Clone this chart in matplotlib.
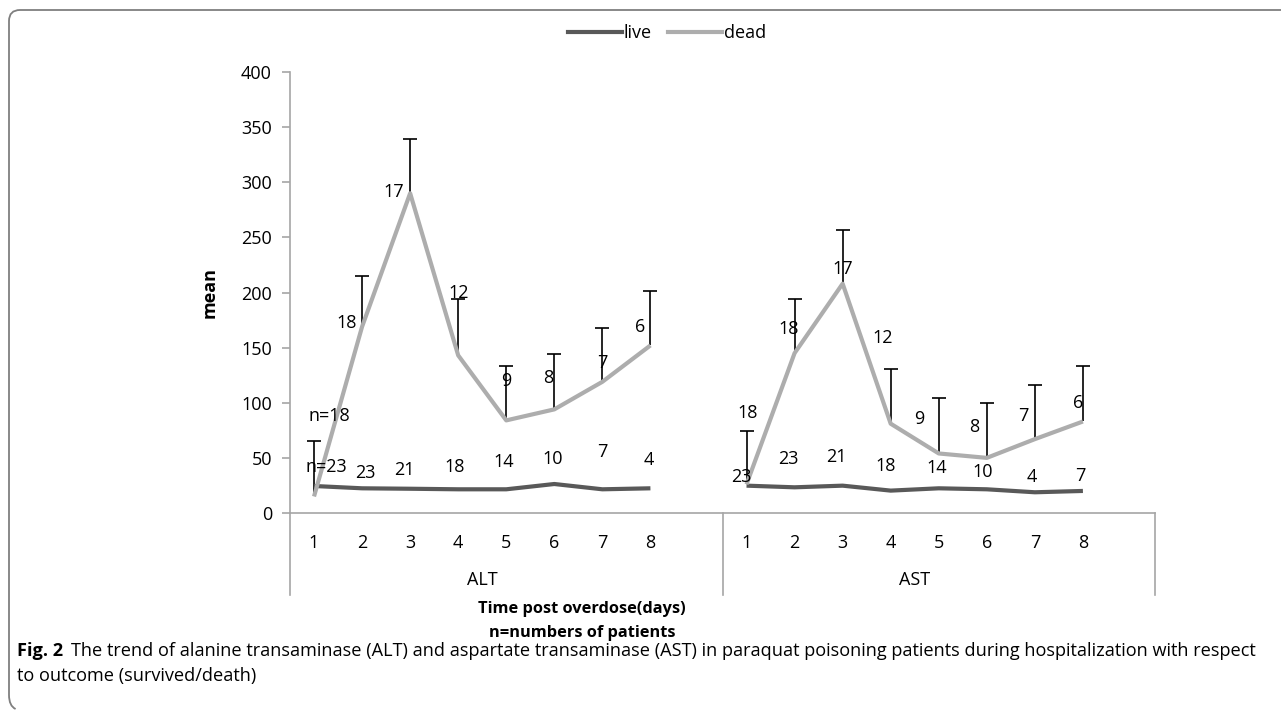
import matplotlib
matplotlib.use("Agg")
import matplotlib.pyplot as plt
from matplotlib import font_manager
from matplotlib.path import Path
from matplotlib.patches import PathPatch
from matplotlib.lines import Line2D
import matplotlib.transforms as mtransforms

# ---------------- data ----------------
days = ["1", "2", "3", "4", "5", "6", "7", "8"]
groups = ["ALT", "AST"]

alt_live = [24.5, 22.4, 22.0, 21.5, 21.5, 26.3, 21.5, 22.4]
alt_dead = [15, 169, 290, 143, 84, 94, 119, 152]
alt_dead_err_top = [65, 215, 339, 194, 133, 144, 168, 201]

ast_live = [24.8, 23.3, 24.8, 20.3, 22.4, 21.5, 18.8, 20.0]
ast_dead = [26, 145, 208, 81, 54, 50, 67, 83]
ast_dead_err_top = [74, 194, 257, 131, 104, 100, 116, 133]

alt_dead_n = ["n=18", "18", "17", "12", "9", "8", "7", "6"]
alt_live_n = ["n=23", "23", "21", "18", "14", "10", "7", "4"]
ast_dead_n = ["18", "18", "17", "12", "9", "8", "7", "6"]
ast_live_n = ["23", "23", "21", "18", "14", "10", "4", "7"]

# label placement (x in category units, y in data units)
alt_dead_lx = [1.32, 1.68, 2.65, 4.00, 5.01, 5.87, 6.99, 7.78]
alt_dead_ly = [88, 172, 291, 200, 120, 122, 136, 169]
alt_live_lx = [1.26, 2.07, 2.89, 3.93, 4.94, 5.97, 6.99, 7.97]
alt_live_ly = [41.4, 36, 39, 42, 46.5, 48.7, 55.6, 48]
ast_dead_lx = [10.03, 10.88, 12.01, 12.84, 13.59, 14.73, 15.75, 16.90]
ast_dead_ly = [90.7, 167, 221, 159, 85, 78, 88, 100]
ast_live_lx = [9.90, 10.88, 11.86, 12.90, 13.96, 14.92, 15.94, 16.94]
ast_live_ly = [32.7, 49, 50.8, 42.6, 40.8, 37.2, 32.7, 33.6]

# ---------------- fonts ----------------
avail = {f.name for f in font_manager.fontManager.ttflist}
def pick(*names):
    for n in names:
        if n in avail:
            return n
    return "DejaVu Sans"
FONT = pick("Open Sans", "Lato", "Noto Sans")
CAPFONT = pick("Liberation Sans Narrow", "Open Sans", "Lato")
plt.rcParams["font.family"] = [FONT, "DejaVu Sans"]

FS = 13
LIVE_C = "#595959"
DEAD_C = "#ADADAD"
AX_C = "#A6A6A6"

W, H = 1281, 715
fig = plt.figure(figsize=(W / 100, H / 100), dpi=100)

def fx(px):
    return px / W
def fy(py):
    return 1 - py / H

ax_l, ax_r, ax_t, ax_b = 290, 1155, 72, 513
ax = fig.add_axes([fx(ax_l), fy(ax_b), fx(ax_r) - fx(ax_l), fy(ax_t) - fy(ax_b)])
ax.set_xlim(0.5, 18.5)
ax.set_ylim(0, 400)

xs_alt = list(range(1, 9))
xs_ast = list(range(10, 18))

# error bars (plus only, cap at top)
for xs, vals, tops in [(xs_alt, alt_dead, alt_dead_err_top), (xs_ast, ast_dead, ast_dead_err_top)]:
    ax.vlines(xs, vals, tops, colors="black", lw=1.2, zorder=2)
    ax.plot(xs, tops, linestyle="none", marker="_", markersize=10, markeredgewidth=1.2,
            color="black", zorder=2)

# lines
for xs, live, dead in [(xs_alt, alt_live, alt_dead), (xs_ast, ast_live, ast_dead)]:
    ax.plot(xs, live, color=LIVE_C, lw=3.0, solid_capstyle="butt", zorder=3)
    ax.plot(xs, dead, color=DEAD_C, lw=3.0, solid_capstyle="butt", zorder=4)

# data labels
for lx, ly, txt in [(alt_dead_lx, alt_dead_ly, alt_dead_n), (alt_live_lx, alt_live_ly, alt_live_n),
                    (ast_dead_lx, ast_dead_ly, ast_dead_n), (ast_live_lx, ast_live_ly, ast_live_n)]:
    for x, y, t in zip(lx, ly, txt):
        ax.text(x, y, t, ha="center", va="center", fontsize=FS, color="black", zorder=5)

# axes styling
for s in ["top", "right"]:
    ax.spines[s].set_visible(False)
ax.spines["left"].set_color(AX_C)
ax.spines["bottom"].set_color(AX_C)
ax.spines["left"].set_linewidth(1.2)
ax.spines["bottom"].set_linewidth(1.2)
ax.set_yticks(range(0, 401, 50))
ax.tick_params(axis="y", colors=AX_C, length=6, width=1.2, labelcolor="black", labelsize=FS, pad=7)
ax.set_xticks(xs_alt + xs_ast)
ax.set_xticklabels(days + days)
ax.tick_params(axis="x", length=0, labelsize=FS, labelcolor="black", pad=15)

# group separators
trans = mtransforms.blended_transform_factory(ax.transData, ax.transAxes)
drop = (595 - ax_b) / (ax_b - ax_t)
for xsep in [0.5, 9.5, 18.5]:
    ax.add_line(Line2D([xsep, xsep], [0, -drop], transform=trans, color=AX_C, lw=1.2, clip_on=False))
for gx, g in zip([4.5, 13.5], groups):
    ax.text(gx, -(580 - ax_b) / (ax_b - ax_t), g, transform=trans, ha="center", va="center", fontsize=FS)

ax.set_ylabel("mean", fontsize=FS, fontweight="bold", labelpad=16)
fig.text(fx(582), fy(609), "Time post overdose(days)", ha="center", va="center", fontsize=11.8, fontweight="bold")
fig.text(fx(582), fy(633), "n=numbers of patients", ha="center", va="center", fontsize=11.8, fontweight="bold")

# legend
handles = [Line2D([], [], color=LIVE_C, lw=3), Line2D([], [], color=DEAD_C, lw=3)]
fig.legend(handles, ["live", "dead"], loc="center", bbox_to_anchor=(fx(667), fy(33)), ncol=2,
           frameon=False, fontsize=FS, handlelength=3.0, handletextpad=0.1, columnspacing=0.9)

# caption
CFS = 13.1
fig.text(fx(17), fy(651), "Fig. 2", ha="left", va="center", fontsize=CFS, fontweight="bold", family=CAPFONT)
fig.text(fx(71), fy(651), "The trend of alanine transaminase (ALT) and aspartate transaminase (AST) in paraquat poisoning patients during hospitalization with respect",
         ha="left", va="center", fontsize=CFS, family=CAPFONT)
fig.text(fx(17), fy(676), "to outcome (survived/death)", ha="left", va="center", fontsize=CFS, family=CAPFONT)

# frame (top + left with rounded corners)
r = 11
verts = [(W, 10), (9 + r, 10), (9, 10), (9, 10 + r), (9, 706 - r), (9, 706), (9 + r * 0.6, 709)]
codes = [Path.MOVETO, Path.LINETO, Path.CURVE3, Path.CURVE3, Path.LINETO, Path.CURVE3, Path.CURVE3]
pv = [(fx(x), fy(y)) for x, y in verts]
fig.patches.append(PathPatch(Path(pv, codes), transform=fig.transFigure, fill=False,
                             edgecolor="#7F7F7F", lw=1.3))

fig.savefig("out.png", dpi=100)
